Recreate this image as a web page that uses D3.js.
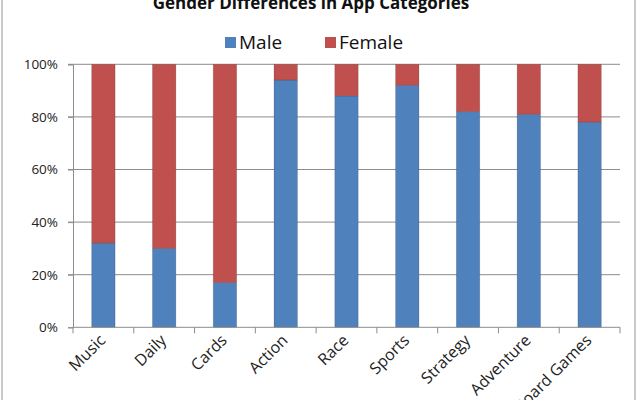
<!DOCTYPE html>
<html><head><meta charset="utf-8">
<script src="https://cdn.jsdelivr.net/npm/d3@7"></script>
<style>
body{margin:0;background:#fff;}
svg{display:block;font-family:"Open Sans","Noto Sans",sans-serif;}
</style></head><body>
<svg id="c" width="640" height="400"></svg>
<script>
const categories = ["Music","Daily","Cards","Action","Race","Sports","Strategy","Adventure","Board Games"];
const male = [32,30,17,94,88,92,82,81,78];
const female = [68,70,83,6,12,8,18,19,22];
const yTicks = [0,20,40,60,80,100];
const seriesNames = ["Male","Female"];
const colors = ["#4F81BD","#C0504D"];

const svg = d3.select("#c");
const m = {l:73, r:620, t:64.3, b:327.3};

// outer frame
svg.append("rect").attr("x",2).attr("y",-5).attr("width",633).attr("height",420)
  .attr("fill","none").attr("stroke","#a6a6a6").attr("stroke-width",1.2);

const x = d3.scaleBand().domain(categories).range([m.l,m.r]).paddingInner(0.615).paddingOuter(0.3075);
const xb = d3.scaleBand().domain(categories).range([m.l,m.r]);
const y = d3.scaleLinear().domain([0,100]).range([m.b,m.t]);

// gridlines
svg.append("g").selectAll("line").data(yTicks.filter(d=>d>0)).join("line")
  .attr("x1",m.l-5).attr("x2",m.r).attr("y1",d=>y(d)).attr("y2",d=>y(d))
  .attr("stroke","#8c8c8c").attr("stroke-width",1);

// y axis
const ya = svg.append("g").attr("transform",`translate(${m.l},0)`)
  .call(d3.axisLeft(y).tickValues(yTicks).tickSize(5).tickPadding(10).tickFormat(d=>d+"%"));
ya.select(".domain").attr("stroke","#8c8c8c");
ya.selectAll(".tick line").attr("stroke","#8c8c8c");
ya.selectAll("text").attr("font-size",13.5).attr("fill","#222").attr("font-family","Open Sans");

// stacked data
const rows = categories.map((c,i)=>({cat:c, Male:male[i], Female:female[i]}));
const stack = d3.stack().keys(seriesNames)(rows);
svg.append("g").selectAll("g").data(stack).join("g").attr("fill",(d,i)=>colors[i])
  .selectAll("rect").data(d=>d).join("rect")
  .attr("x",d=>x(d.data.cat)).attr("width",x.bandwidth())
  .attr("y",d=>y(d[1])).attr("height",d=>y(d[0])-y(d[1]))
  .attr("stroke","rgba(0,0,0,0.18)").attr("stroke-width",0.8);

// x axis
const xa = svg.append("g").attr("transform",`translate(0,${m.b})`);
xa.append("line").attr("x1",m.l).attr("x2",m.r).attr("stroke","#8c8c8c");
const bounds = categories.map(c=>xb(c)).concat([m.r]);
xa.selectAll("line.tk").data(bounds).join("line").attr("class","tk")
  .attr("x1",d=>d).attr("x2",d=>d).attr("y1",0).attr("y2",6).attr("stroke","#8c8c8c");
xa.selectAll("text").data(categories).join("text")
  .attr("transform",d=>`translate(${xb(d)+xb.bandwidth()/2+3},${14}) rotate(-45)`)
  .attr("text-anchor","end").attr("font-size",16).attr("fill","#222")
  .attr("font-family","Open Sans")
  .text(d=>d);

// title
svg.append("text").attr("x",311).attr("y",9).attr("text-anchor","middle")
  .attr("font-weight","bold").attr("font-size",17).attr("fill","#111").attr("font-family","Open Sans")
  .text("Gender Differences in App Categories");

// legend
const legX = [225,325];
const lg = svg.append("g").selectAll("g").data(seriesNames).join("g")
  .attr("transform",(d,i)=>`translate(${legX[i]},37)`);
lg.append("rect").attr("width",11).attr("height",11).attr("fill",(d,i)=>colors[i]);
lg.append("text").attr("x",14).attr("y",11.5).attr("font-size",19).attr("fill","#111")
  .attr("font-family","Open Sans").text(d=>d);
</script>
</body></html>
